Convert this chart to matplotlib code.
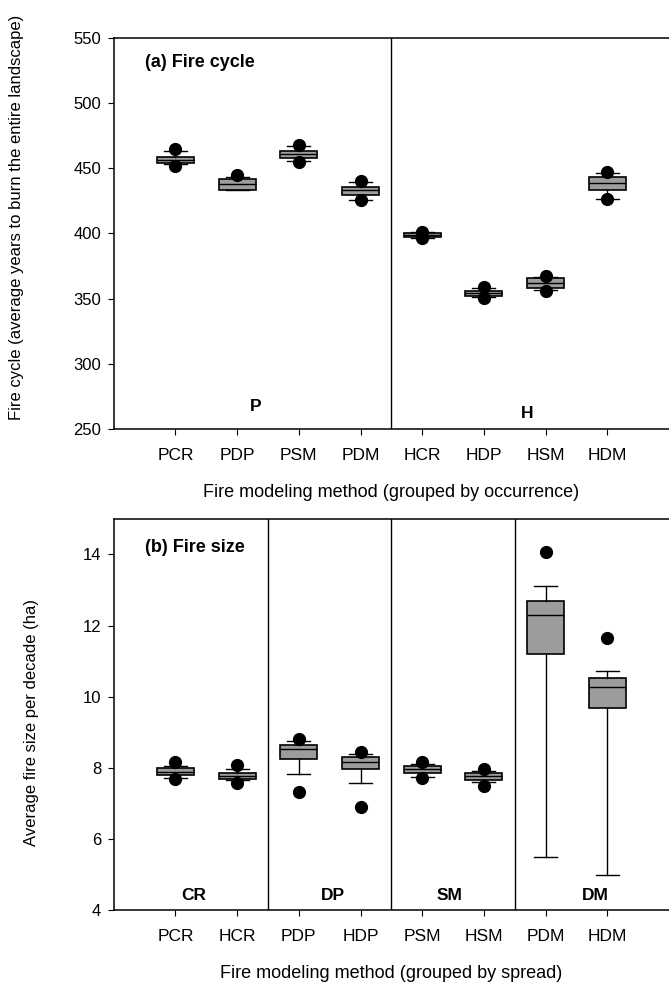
import numpy as np
import matplotlib
matplotlib.use("Agg")
import matplotlib.pyplot as plt

plt.rcParams['font.family'] = ['Liberation Sans', 'DejaVu Sans']

# (a) Fire cycle, grouped by occurrence
labels_a = ['PCR', 'PDP', 'PSM', 'PDM', 'HCR', 'HDP', 'HSM', 'HDM']
a_lo = [453.5, 433.5, 455.3, 426.0, 396.5, 351.5, 356.5, 426.5]
a_q1 = [454.0, 433.5, 458.2, 429.5, 397.0, 352.3, 358.0, 433.5]
a_med = [456.5, 438.0, 461.0, 433.0, 398.5, 354.0, 361.7, 439.0]
a_q3 = [459.0, 442.0, 463.5, 436.0, 400.0, 355.5, 365.8, 443.0]
a_hi = [463.5, 443.6, 467.3, 439.7, 401.0, 358.0, 366.5, 446.5]
a_dots = [[464.5, 452.0], [444.5], [467.8, 454.5], [440.5, 425.6],
          [401.5, 396.5], [358.7, 350.5], [367.0, 356.0], [447.3, 426.2]]
groups_a = ['P', 'H']

# (b) Fire size, grouped by spread
labels_b = ['PCR', 'HCR', 'PDP', 'HDP', 'PSM', 'HSM', 'PDM', 'HDM']
b_lo = [7.71, 7.65, 7.82, 7.58, 7.75, 7.61, 5.49, 4.99]
b_q1 = [7.79, 7.67, 8.25, 7.96, 7.84, 7.65, 11.21, 9.69]
b_med = [7.89, 7.77, 8.52, 8.17, 7.96, 7.76, 12.29, 10.27]
b_q3 = [7.99, 7.85, 8.65, 8.29, 8.06, 7.85, 12.69, 10.52]
b_hi = [8.06, 7.96, 8.75, 8.38, 8.12, 7.90, 13.12, 10.73]
b_dots = [[8.17, 7.67], [8.08, 7.58], [8.80, 7.33], [8.44, 6.91],
          [8.17, 7.71], [7.96, 7.50], [14.07], [11.66]]
groups_b = ['CR', 'DP', 'SM', 'DM']


def make_stats(lo, q1, med, q3, hi, dots):
    stats = []
    for i in range(len(lo)):
        stats.append(dict(whislo=lo[i], q1=q1[i], med=med[i], q3=q3[i],
                          whishi=hi[i], fliers=np.array(dots[i])))
    return stats


def draw_panel(ax, stats, labels, ylim, yticks):
    pos = np.arange(1, len(stats) + 1)
    ax.bxp(stats, positions=pos, widths=0.6, capwidths=0.37,
           patch_artist=True, showfliers=True,
           boxprops=dict(facecolor='#9c9c9c', edgecolor='black', lw=1.2),
           medianprops=dict(color='black', lw=1),
           whiskerprops=dict(color='black', lw=1),
           capprops=dict(color='black', lw=1),
           flierprops=dict(marker='o', markerfacecolor='black',
                           markeredgecolor='black', markersize=8.5))
    ax.set_xlim(0, 9)
    ax.set_ylim(*ylim)
    ax.set_yticks(yticks)
    ax.set_xticks(pos)
    ax.set_xticklabels(labels)
    ax.spines['right'].set_visible(False)
    for s in ['left', 'bottom', 'top']:
        ax.spines[s].set_linewidth(1.1)
    ax.tick_params(axis='x', direction='out', length=4, pad=10, labelsize=12.5)
    ax.tick_params(axis='y', direction='out', length=4, pad=5, labelsize=12)


fig = plt.figure(figsize=(6.69, 9.83), dpi=100)

# top panel
ax1 = fig.add_axes([0.170, 0.5636, 0.830, 0.3978])
draw_panel(ax1, make_stats(a_lo, a_q1, a_med, a_q3, a_hi, a_dots),
           labels_a, (250, 550), np.arange(250, 551, 50))
ax1.axvline(4.5, color='black', lw=1)
ax1.text(0.5, 531, '(a) Fire cycle', fontsize=13, fontweight='bold',
         va='center', ha='left')
ax1.text(2.3, 267, groups_a[0], fontsize=12.5, fontweight='bold', ha='center', va='center')
ax1.text(6.7, 262, groups_a[1], fontsize=12.5, fontweight='bold', ha='center', va='center')
ax1.set_xlabel('Fire modeling method (grouped by occurrence)', fontsize=13, labelpad=15)
ax1.set_ylabel('Fire cycle (average years to burn the entire landscape)', fontsize=12)
ax1.yaxis.set_label_coords(-0.162, 0.54)

# bottom panel
ax2 = fig.add_axes([0.170, 0.0743, 0.830, 0.3978])
draw_panel(ax2, make_stats(b_lo, b_q1, b_med, b_q3, b_hi, b_dots),
           labels_b, (4, 15), np.arange(4, 15, 2))
for xd in [2.5, 4.5, 6.5]:
    ax2.axvline(xd, color='black', lw=1)
ax2.text(0.5, 14.2, '(b) Fire size', fontsize=13, fontweight='bold',
         va='center', ha='left')
for xg, g in zip([1.3, 3.55, 5.45, 7.8], groups_b):
    ax2.text(xg, 4.42, g, fontsize=12.5, fontweight='bold', ha='center', va='center')
ax2.set_xlabel('Fire modeling method (grouped by spread)', fontsize=13, labelpad=15)
ax2.set_ylabel('Average fire size per decade (ha)', fontsize=12)
ax2.yaxis.set_label_coords(-0.135, 0.48)

plt.savefig('out.png', dpi=100)
